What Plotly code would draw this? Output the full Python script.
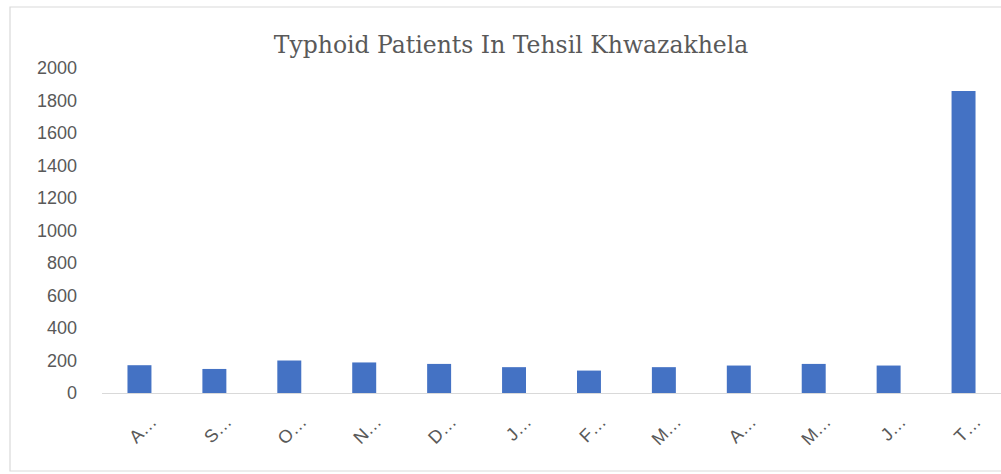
import plotly.graph_objects as go

# Monthly typhoid patient counts, Tehsil Khwazakhela (last bar is the total)
months = ["Aug", "Sep", "Oct", "Nov", "Dec", "Jan", "Feb", "Mar", "Apr", "May", "Jun", "Total"]
tick_labels = ["A…", "S…", "O…", "N…", "D…", "J…", "F…", "M…", "A…", "M…", "J…", "T…"]
patients = [171, 148, 200, 188, 179, 159, 138, 159, 169, 179, 169, 1859]
y_ticks = [0, 200, 400, 600, 800, 1000, 1200, 1400, 1600, 1800, 2000]

W, H = 1001, 474
L, R, T, B = 102, 0, 68, 81
plot_w = W - L - R
plot_h = H - T - B


def px_x(x):
    return (x - L) / plot_w


def px_y(y):
    return (H - B - y) / plot_h


fig = go.Figure(
    go.Bar(
        x=months,
        y=patients,
        marker=dict(color="#4472C4", line=dict(width=0)),
        width=0.32,
    )
)

fig.update_layout(
    width=W,
    height=H,
    margin=dict(l=L, r=R, t=T, b=B),
    paper_bgcolor="white",
    plot_bgcolor="white",
    showlegend=False,
    title=dict(
        text="Typhoid Patients In Tehsil Khwazakhela",
        x=511 / W,
        xanchor="center",
        y=1 - 45 / H,
        yanchor="middle",
        font=dict(family="DejaVu Serif, Liberation Serif, serif", size=23.5, color="#595959"),
    ),
    shapes=[
        dict(
            type="rect",
            xref="paper",
            yref="paper",
            x0=px_x(10),
            x1=px_x(1010),
            y0=px_y(471),
            y1=px_y(7),
            line=dict(color="#d9d9d9", width=1.2),
            fillcolor="rgba(0,0,0,0)",
            layer="below",
        )
    ],
)

fig.update_xaxes(
    tickmode="array",
    tickvals=months,
    ticktext=tick_labels,
    tickangle=-45,
    showline=True,
    linecolor="#d9d9d9",
    linewidth=1,
    showgrid=False,
    ticks="",
    tickfont=dict(family="Liberation Sans, Arial, sans-serif", size=18, color="#595959"),
    ticklabelstandoff=10,
    ticklabelshift=12,
)

fig.update_yaxes(
    range=[0, 2000],
    tickmode="array",
    tickvals=y_ticks,
    showgrid=False,
    zeroline=False,
    showline=False,
    ticks="",
    tickfont=dict(family="Liberation Sans, Arial, sans-serif", size=18, color="#595959"),
    ticklabelstandoff=24,
)

fig.write_html("out.html")
